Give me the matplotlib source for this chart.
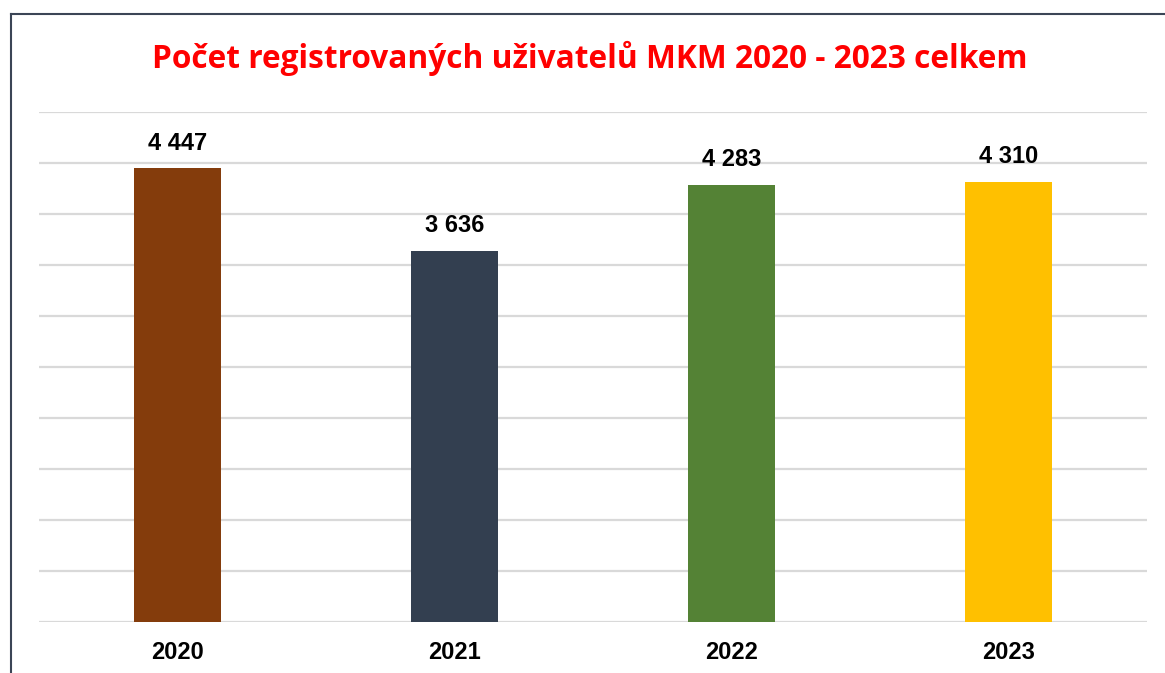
import matplotlib
matplotlib.use('Agg')
import matplotlib.pyplot as plt
from matplotlib.lines import Line2D

# Donnees
roky = ['2020', '2021', '2022', '2023']
uzivatele = [4447, 3636, 4283, 4310]
barvy = ['#843C0C', '#333F50', '#548235', '#FFC000']
titulek = 'Počet registrovaných uživatelů MKM 2020 - 2023 celkem'

W, H = 1165, 673
fig = plt.figure(figsize=(W / 100, H / 100), dpi=100)
ax = fig.add_axes([39 / W, 1 - 622 / H, (1147 - 39) / W, (622 - 112) / H])

x = range(len(roky))
ax.bar(x, uzivatele, width=0.314, color=barvy, zorder=3)

ax.set_xlim(-0.5, len(roky) - 0.5)
ax.set_ylim(0, 5000)
ax.set_yticks(range(0, 5001, 500))
ax.yaxis.grid(True, color='#D9D9D9', linewidth=1.6, zorder=0)
ax.tick_params(axis='y', left=False, labelleft=False)
ax.tick_params(axis='x', length=0, pad=14)
ax.set_xticks(list(x))
ax.set_xticklabels(roky, fontsize=17, fontweight='bold', family='Liberation Sans')
for s in ax.spines.values():
    s.set_visible(False)

# Etiquettes de valeurs
for i, v in enumerate(uzivatele):
    txt = f'{v:,}'.replace(',', ' ')
    ax.annotate(txt, (i, v), xytext=(0, 10), textcoords='offset points',
                ha='center', va='bottom', fontsize=17, fontweight='bold',
                family='Liberation Sans')

fig.text(590 / W, 1 - 58 / H, titulek, ha='center', va='center',
         fontsize=22.8, fontweight='bold', color='#FF0000', family='Open Sans')

# Cadre (gauche + haut)
fig.add_artist(Line2D([10.5 / W, 10.5 / W], [0, 1 - 13.5 / H], color='#3B4556',
                      linewidth=1.5, transform=fig.transFigure))
fig.add_artist(Line2D([10.5 / W, 1], [1 - 13.5 / H, 1 - 13.5 / H], color='#3B4556',
                      linewidth=1.5, transform=fig.transFigure))

fig.savefig('out.png', dpi=100)
